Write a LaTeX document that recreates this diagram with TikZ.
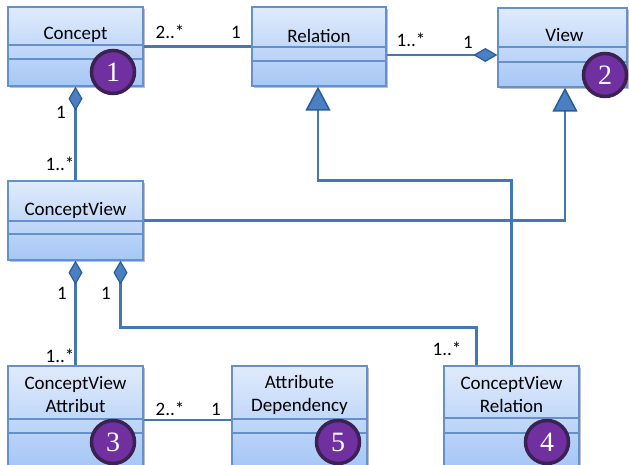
\documentclass[tikz,border=0pt]{standalone}
\usepackage{fontspec}
\setmainfont{Carlito}
\newfontfamily\numfont{Liberation Serif}
\usetikzlibrary{arrows.meta,calc,shadows}
\definecolor{boxtop}{RGB}{224,235,252}
\definecolor{boxbot}{RGB}{166,199,246}
\definecolor{boxline}{RGB}{100,145,205}
\definecolor{link}{RGB}{66,120,186}
\definecolor{tipfill}{RGB}{74,128,194}
\definecolor{tipline}{RGB}{44,92,152}
\definecolor{badge}{RGB}{112,48,160}
\definecolor{badgering}{RGB}{60,34,82}
\tikzset{
  comptip/.tip={Diamond[width=14pt,length=24pt,fill=tipfill,color=tipline,line width=1.2pt]},
  gentip/.tip={Triangle[width=25pt,length=24pt,fill=tipfill,color=tipline,line width=1.5pt]},
}
\begin{document}
\begin{tikzpicture}[x=1pt,y=-1pt,
  cls/.style={rectangle, draw=boxline, line width=1.3pt, top color=boxtop,
    bottom color=boxbot, inner sep=0pt,
    drop shadow={shadow xshift=1.5pt, shadow yshift=-1.5pt, opacity=0.25, fill=black}},
  title/.style={font=\fontsize{19}{23}\selectfont, align=center, inner sep=0pt},
  mult/.style={font=\fontsize{19}{21}\selectfont, inner sep=0pt},
  sep/.style={draw=boxline, line width=1.3pt},
  conn/.style={draw=link, line width=2.5pt},
  badgenode/.style={circle, fill=badge, draw=badgering, line width=3.5pt,
    minimum size=43pt, inner sep=0pt, text=white,
    font=\numfont\fontsize{28}{28}\selectfont},
]
\useasboundingbox (0,0) rectangle (629,464);
\clip (0,0) rectangle (629,464);

% class boxes
\node[cls, minimum width=135pt, minimum height=79pt] (concept)  at (75.5,46.5) {};
\node[cls, minimum width=134pt, minimum height=79pt] (relation) at (319,46.5) {};
\node[cls, minimum width=129pt, minimum height=79pt] (view)     at (562.5,47.5) {};
\node[cls, minimum width=135pt, minimum height=79pt] (cview)    at (75.5,220.5) {};
\node[cls, minimum width=135pt, minimum height=100pt] (cva)     at (75.5,416) {};
\node[cls, minimum width=135pt, minimum height=100pt] (adep)    at (299.5,416) {};
\node[cls, minimum width=135pt, minimum height=100pt] (cvrel)   at (511.5,416) {};

% compartment separators
\foreach \n/\a/\b in {concept/45/59, relation/47/61, view/47/62, cview/221/234,
                      cva/419/433, adep/419/433, cvrel/418/433} {
  \draw[sep] (\n.west |- 0,\a) -- (\n.east |- 0,\a);
  \draw[sep] (\n.west |- 0,\b) -- (\n.east |- 0,\b);
}

% class names
\node[title] (tconcept)  at ($(concept.north)+(0,28.5)$)  {Concept};
\node[title] (trelation) at ($(relation.north)+(0,30)$)   {Relation};
\node[title] (tview)     at ($(view.north)+(2,28)$)       {View};
\node[title] (tcview)    at ($(cview.north)+(0,30)$)      {ConceptView};
\node[title] (tcva)      at ($(cva.north)+(0,29.5)$)      {ConceptView\\Attribut};
\node[title] (tadep)     at ($(adep.north)+(0,29.5)$)     {Attribute\\Dependency};
\node[title] (tcvrel)    at ($(cvrel.north)+(0,29.5)$)    {ConceptView\\Relation};

% associations
\draw[conn] (concept.east) -- (relation.west);
\draw[conn, -{comptip}] ($(relation.east)+(0,8.5)$) -- ($(view.west)+(0,7.5)$);
\draw[conn, {comptip}-] (concept.south) -- (cview.north);
\draw[conn, -{gentip}] (cview.east) -| ($(view.south)+(2.5,0)$);
\draw[conn, -{gentip}] (cvrel.north) |- ($(relation.south)+(-1,94)$) -- ($(relation.south)+(-1,0)$);
\draw[conn, {comptip}-] (cview.south) -- (cva.north);
\draw[conn, {comptip}-] ($(cview.south)+(45,0)$) |- ($(cvrel.north)+(-35,-38)$) -- ($(cvrel.north)+(-35,0)$);
\draw[conn] ($(cva.east)+(0,4)$) -- ($(adep.west)+(0,4)$);

% multiplicities
\node[mult] (m1) at (170,32) {2..*};
\node[mult] (m2) at (236,32) {1};
\node[mult] (m3) at (411,40) {1..*};
\node[mult] (m4) at (468,42) {1};
\node[mult] (m5) at (61,112) {1};
\node[mult] (m6) at (60,164) {1..*};
\node[mult] (m7) at (62,293) {1};
\node[mult] (m8) at (106,293) {1};
\node[mult] (m9) at (60,356) {1..*};
\node[mult] (m10) at (447,349) {1..*};
\node[mult] (m11) at (170,409) {2..*};
\node[mult] (m12) at (216,409) {1};

% numbered badges
\node[badgenode] (b1) at (113,72)  {1};
\node[badgenode] (b2) at (605,75)  {2};
\node[badgenode] (b3) at (113,442) {3};
\node[badgenode] (b4) at (547,442) {4};
\node[badgenode] (b5) at (338,442) {5};
\end{tikzpicture}
\end{document}
